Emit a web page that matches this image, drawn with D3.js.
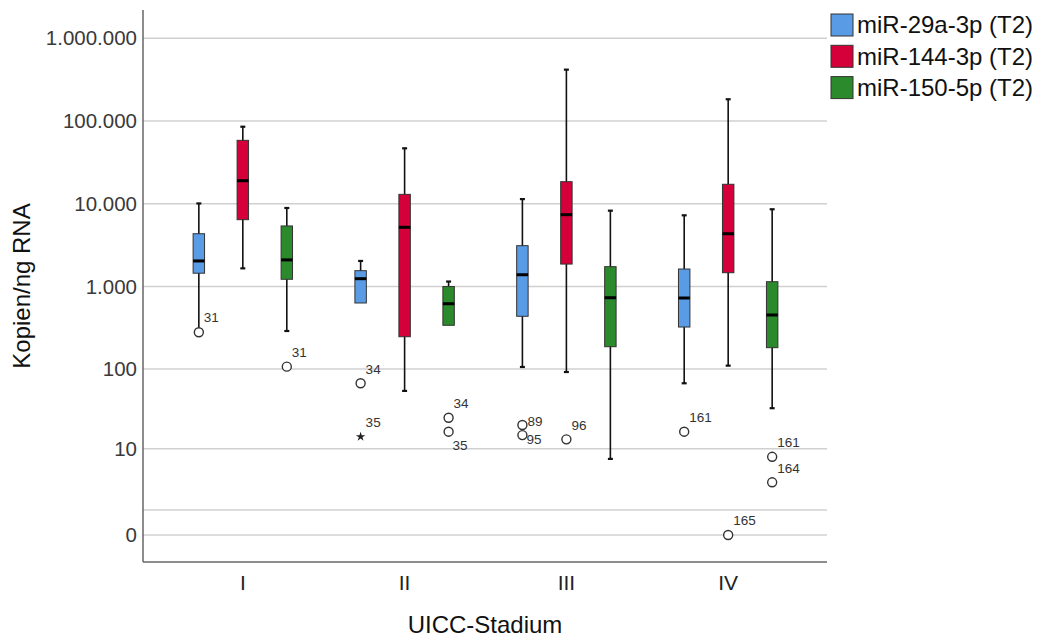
<!DOCTYPE html>
<html>
<head>
<meta charset="utf-8">
<script src="https://cdn.jsdelivr.net/npm/d3@7"></script>
<style>
    body { margin: 0; background: #fff; }
    text { font-family: "Liberation Sans", Arial, sans-serif; }
</style>
</head>
<body>
<div id="chart"></div>
<script>
// categories
var stages = ["I", "II", "III", "IV"];
var seriesNames = ["miR-29a-3p (T2)", "miR-144-3p (T2)", "miR-150-5p (T2)"];
var seriesColors = ["#5a9be6", "#d5003a", "#2b8a2b"];

// box stats per stage: [whisker low, Q1, median, Q3, whisker high]
var mir29aStats = [
    [300, 1450, 2040, 4350, 10100],
    [633, 633, 1245, 1556, 2040],
    [106, 437, 1390, 3120, 11400],
    [67, 324, 727, 1630, 7260]
];
var mir144Stats = [
    [1660, 6430, 19000, 58400, 85300],
    [54, 247, 5200, 13000, 46800],
    [92, 1870, 7390, 18500, 417000],
    [110, 1470, 4350, 17200, 183000]
];
var mir150Stats = [
    [290, 1225, 2100, 5400, 8900],
    [340, 340, 620, 1000, 1150],
    [7.3, 187, 733, 1740, 8260],
    [33, 182, 453, 1145, 8590]
];

// outliers: stage, series index, value, case id, extreme?
var outliers = [
    { stage: "I", s: 0, value: 280, id: "31", extreme: false },
    { stage: "I", s: 2, value: 107, id: "31", extreme: false },
    { stage: "II", s: 0, value: 67, id: "34", extreme: false },
    { stage: "II", s: 0, value: 14.4, id: "35", extreme: true },
    { stage: "II", s: 2, value: 25.1, id: "34", extreme: false },
    { stage: "II", s: 2, value: 16.7, id: "35", extreme: false },
    { stage: "III", s: 0, value: 20.3, id: "89", extreme: false },
    { stage: "III", s: 0, value: 15.1, id: "95", extreme: false },
    { stage: "III", s: 1, value: 13.3, id: "96", extreme: false },
    { stage: "IV", s: 0, value: 16.7, id: "161", extreme: false },
    { stage: "IV", s: 1, value: 0, id: "165", extreme: false },
    { stage: "IV", s: 2, value: 7.8, id: "161", extreme: false },
    { stage: "IV", s: 2, value: 3.33, id: "164", extreme: false }
];

var yTicks = [0, 1, 10, 100, 1000, 10000, 100000, 1000000];
var yTickLabels = ["0", "", "10", "100", "1.000", "10.000", "100.000", "1.000.000"];

// label placement for crowded outliers (default: above right)
var labelPlace = { "II-2-35": "below", "III-0-89": "rightUp", "III-0-95": "rightDown" };
var placeOffsets = {
    above: [5, -14.5], below: [4, 14], rightUp: [5, -3.5], rightDown: [4, 4.5]
};

var allStats = [mir29aStats, mir144Stats, mir150Stats];

var width = 1044, height = 642;
var plot = { left: 143, top: 10, right: 827, bottom: 562 };

var svg = d3.select("#chart").append("svg")
    .attr("width", width).attr("height", height);
svg.append("rect").attr("width", width).attr("height", height).attr("fill", "#fff");

var x = d3.scaleBand().domain(stages).range([plot.left, 828])
    .paddingInner(0).paddingOuter(0.117);
var xs = d3.scaleBand().domain([0, 1, 2]).range([0, x.bandwidth()])
    .paddingInner(0).paddingOuter(0.339);
var y = d3.scaleSymlog().constant(1).domain([-1.118, 2.19e6])
    .range([plot.bottom, plot.top]);

var boxW = xs.step() * 0.26;
function cx(stage, s) { return x(stage) + xs(s) + xs.bandwidth() / 2; }

// gridlines
svg.append("g").selectAll("line").data(yTicks).enter().append("line")
    .attr("x1", plot.left).attr("x2", plot.right)
    .attr("y1", function (d) { return y(d); }).attr("y2", function (d) { return y(d); })
    .attr("stroke", "#d0d0d0").attr("stroke-width", 1.5);

// y axis
var yAxis = svg.append("g").attr("transform", "translate(" + plot.left + ",0)")
    .call(d3.axisLeft(y).tickValues(yTicks)
        .tickFormat(function (d, i) { return yTickLabels[i]; })
        .tickSize(0).tickPadding(6));
yAxis.select(".domain").remove();
yAxis.selectAll("text").attr("font-size", 20.5).attr("fill", "#3a3a3a");

// x axis
var xAxis = svg.append("g").attr("transform", "translate(0," + plot.bottom + ")")
    .call(d3.axisBottom(x).tickSize(0).tickPadding(13));
xAxis.select(".domain").remove();
xAxis.selectAll("text").attr("font-size", 21).attr("fill", "#222");

// axis lines
svg.append("line").attr("x1", plot.left).attr("x2", plot.left)
    .attr("y1", plot.top).attr("y2", plot.bottom)
    .attr("stroke", "#666").attr("stroke-width", 1.5);
svg.append("line").attr("x1", plot.left).attr("x2", plot.right)
    .attr("y1", plot.bottom).attr("y2", plot.bottom)
    .attr("stroke", "#666").attr("stroke-width", 1.5);

// boxes
var boxes = [];
allStats.forEach(function (stats, s) {
    stats.forEach(function (v, i) {
        boxes.push({ stage: stages[i], s: s, lo: v[0], q1: v[1], med: v[2], q3: v[3], hi: v[4] });
    });
});

var g = svg.append("g").selectAll("g").data(boxes).enter().append("g");

g.append("line")
    .attr("x1", function (d) { return cx(d.stage, d.s); })
    .attr("x2", function (d) { return cx(d.stage, d.s); })
    .attr("y1", function (d) { return y(d.lo); })
    .attr("y2", function (d) { return y(d.hi); })
    .attr("stroke", "#111").attr("stroke-width", 1.6);

// caps
g.selectAll(".cap").data(function (d) {
    var out = [{ d: d, v: d.hi }];
    if (d.lo < d.q1) out.push({ d: d, v: d.lo });
    return out;
}).enter().append("line").attr("class", "cap")
    .attr("x1", function (c) { return cx(c.d.stage, c.d.s) - 2.5; })
    .attr("x2", function (c) { return cx(c.d.stage, c.d.s) + 2.5; })
    .attr("y1", function (c) { return y(c.v); })
    .attr("y2", function (c) { return y(c.v); })
    .attr("stroke", "#111").attr("stroke-width", 2.2);

g.append("rect")
    .attr("x", function (d) { return cx(d.stage, d.s) - boxW / 2; })
    .attr("y", function (d) { return y(d.q3); })
    .attr("width", boxW)
    .attr("height", function (d) { return y(d.q1) - y(d.q3); })
    .attr("fill", function (d) { return seriesColors[d.s]; })
    .attr("stroke", "#333").attr("stroke-width", 1);

g.append("line")
    .attr("x1", function (d) { return cx(d.stage, d.s) - boxW / 2; })
    .attr("x2", function (d) { return cx(d.stage, d.s) + boxW / 2; })
    .attr("y1", function (d) { return y(d.med); })
    .attr("y2", function (d) { return y(d.med); })
    .attr("stroke", "#000").attr("stroke-width", 3);

// outliers
var og = svg.append("g").selectAll("g").data(outliers).enter().append("g")
    .attr("transform", function (d) { return "translate(" + cx(d.stage, d.s) + "," + y(d.value) + ")"; });

og.filter(function (d) { return !d.extreme; }).append("circle")
    .attr("r", 4.5).attr("fill", "#fff")
    .attr("stroke", "#333").attr("stroke-width", 1.4);
og.filter(function (d) { return d.extreme; }).append("path")
    .attr("d", d3.symbol().type(d3.symbolStar).size(28))
    .attr("fill", "#222");

og.append("text")
    .attr("x", function (d) { return placeOffsets[labelPlace[d.stage + "-" + d.s + "-" + d.id] || "above"][0]; })
    .attr("y", function (d) { return placeOffsets[labelPlace[d.stage + "-" + d.s + "-" + d.id] || "above"][1]; })
    .attr("dy", "0.35em")
    .attr("font-size", 13.5).attr("fill", "#333")
    .text(function (d) { return d.id; });

// axis titles
svg.append("text")
    .attr("x", (plot.left + plot.right) / 2).attr("y", 633)
    .attr("text-anchor", "middle").attr("font-size", 24).attr("fill", "#111")
    .text("UICC-Stadium");
svg.append("text")
    .attr("transform", "translate(30," + ((plot.top + plot.bottom) / 2) + ") rotate(-90)")
    .attr("text-anchor", "middle").attr("font-size", 24).attr("fill", "#111")
    .text("Kopien/ng RNA");

// legend
var legend = svg.append("g").attr("transform", "translate(831,14)")
    .selectAll(".legends").data(seriesNames).enter().append("g")
    .classed("legends", true)
    .attr("transform", function (d, i) { return "translate(0," + i * 31.3 + ")"; });
legend.append("rect")
    .attr("width", 22).attr("height", 22)
    .attr("fill", function (d, i) { return seriesColors[i]; })
    .attr("stroke", "#333").attr("stroke-width", 1);
legend.append("text")
    .attr("x", 26).attr("y", 11).attr("dy", "0.35em")
    .attr("font-size", 24).attr("fill", "#111")
    .text(function (d) { return d; });
</script>
</body>
</html>
